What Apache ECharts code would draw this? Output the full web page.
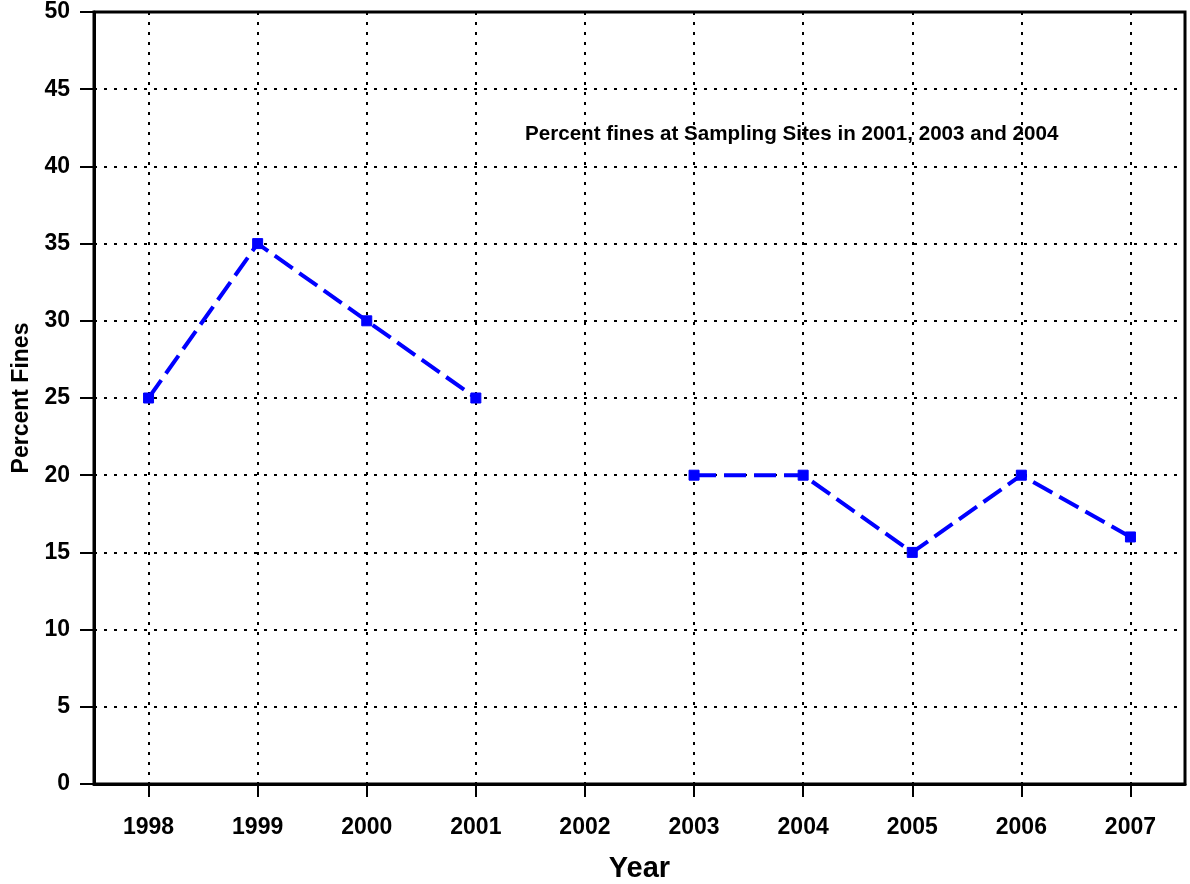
<!DOCTYPE html>
<html>
<head>
<meta charset="utf-8">
<script src="https://cdn.jsdelivr.net/npm/echarts@6/dist/echarts.min.js"></script>
<style>html,body{margin:0;padding:0;background:#fff;}#c{width:1190px;height:884px;}</style>
</head>
<body>
<div id="c"></div>
<script>
const years = ['1998','1999','2000','2001','2002','2003','2004','2005','2006','2007'];
const percentFines = [25, 35, 30, 25, null, 20, 20, 15, 20, 16];
const yTicks = {min: 0, max: 50, interval: 5};
const titleText = 'Percent fines at Sampling Sites in 2001, 2003 and 2004';

const FONT = '"Liberation Sans", Arial, sans-serif';
const chart = echarts.init(document.getElementById('c'), null, {renderer: 'canvas'});
chart.setOption({
  backgroundColor: '#fff',
  animation: false,
  title: {
    text: titleText,
    left: 520, top: 119,
    textStyle: {fontFamily: FONT, fontWeight: 'bold', fontSize: 20.6, color: '#000'}
  },
  grid: {
    left: 94, right: 5, top: 12, bottom: 100,
    containLabel: false,
    outerBoundsMode: 'none',
    show: true, borderColor: '#000', borderWidth: 3, backgroundColor: 'transparent'
  },
  xAxis: {
    type: 'category',
    data: years,
    boundaryGap: true,
    name: 'Year',
    nameLocation: 'middle',
    nameGap: 70,
    nameTextStyle: {fontFamily: FONT, fontWeight: 'bold', fontSize: 29, color: '#000'},
    axisLine: {show: true, lineStyle: {color: '#000', width: 3}},
    axisTick: {show: true, alignWithLabel: true, length: 13, lineStyle: {color: '#000', width: 2}},
    axisLabel: {margin: 32, fontFamily: FONT, fontWeight: 'bold', fontSize: 23, color: '#000'},
    splitLine: {show: true, alignWithLabel: true, lineStyle: {color: '#000', width: 2, type: [3, 7]}}
  },
  yAxis: {
    type: 'value',
    min: yTicks.min, max: yTicks.max, interval: yTicks.interval,
    name: 'Percent Fines',
    nameLocation: 'middle',
    nameGap: 61,
    nameTextStyle: {fontFamily: FONT, fontWeight: 'bold', fontSize: 23, color: '#000'},
    axisLine: {show: true, lineStyle: {color: '#000', width: 3}},
    axisTick: {show: true, length: 14, lineStyle: {color: '#000', width: 2}},
    axisLabel: {margin: 24, fontFamily: FONT, fontWeight: 'bold', fontSize: 23, color: '#000'},
    splitLine: {show: true, lineStyle: {color: '#000', width: 2, type: [3, 7]}}
  },
  series: [{
    type: 'line',
    data: percentFines,
    connectNulls: false,
    symbol: 'rect',
    symbolSize: 10,
    showAllSymbol: true,
    lineStyle: {color: '#0000ff', width: 4, type: [22, 8]},
    itemStyle: {color: '#0000ff', borderColor: '#0000ff', borderWidth: 1}
  }]
});
</script>
</body>
</html>
